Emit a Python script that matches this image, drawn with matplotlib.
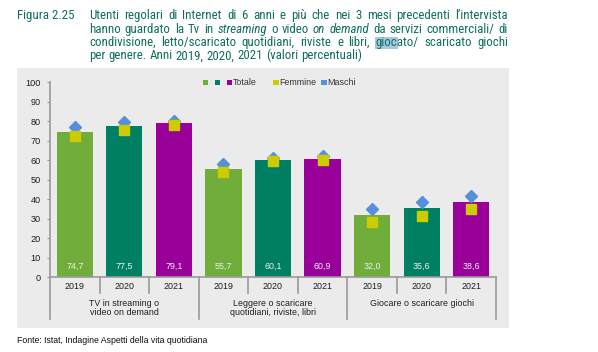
import matplotlib
matplotlib.use("Agg")
import matplotlib.pyplot as plt
from matplotlib.patches import Rectangle
from matplotlib import font_manager as fm
import numpy as np

# ---------------- data ----------------
years = ["2019", "2020", "2021"]
categories = ["TV in streaming o\nvideo on demand",
              "Leggere o scaricare\nquotidiani, riviste, libri",
              "Giocare o scaricare giochi"]
totale = [74.7, 77.5, 79.1, 55.7, 60.1, 60.9, 32.0, 35.6, 38.6]
femmine = [72.4, 75.5, 78.1, 53.9, 59.7, 60.1, 28.2, 31.3, 34.9]
maschi = [77.2, 79.5, 80.3, 57.9, 61.1, 62.0, 35.0, 38.8, 41.9]
value_labels = ["74,7", "77,5", "79,1", "55,7", "60,1", "60,9", "32,0", "35,6", "38,6"]
yticks = list(range(0, 101, 10))
legend_labels = ["Totale", "Femmine", "Maschi"]

# ---------------- style ----------------
W, H = 598, 352
DPI = 100
year_colors = ["#70AD3B", "#008062", "#990099"]
c_fem = "#CCCC00"
c_mas = "#5590DA"
bg = "#EBEBEB"
title_col = "#0F7060"
txt_col = "#1E1E1E"
axis_col = "#9A9A9A"
FS = 6.4
FONT = ["Liberation Sans", "DejaVu Sans"]
_names = set(f.name for f in fm.fontManager.ttflist)
if "Roboto Condensed" in _names:
    TFAM, TSTRETCH, TWEIGHT = "Roboto Condensed", "normal", "normal"
else:
    TFAM, TSTRETCH, TWEIGHT = "DejaVu Sans", "condensed", "normal"

plt.rcParams["font.family"] = FONT

fig = plt.figure(figsize=(W / DPI, H / DPI), dpi=DPI)
fig.patch.set_facecolor("white")

def fx(px):
    return px / W

def fy(py):
    return (H - py) / H

# gray panel
fig.patches.append(Rectangle((fx(17), fy(328)), fx(508.7) - fx(17), fy(68.3) - fy(328),
                             transform=fig.transFigure, facecolor=bg, edgecolor="none", zorder=-5))

# axes
ax_l, ax_r, ax_t, ax_b = 50, 496, 82.3, 277.3
ax = fig.add_axes([fx(ax_l), fy(ax_b), fx(ax_r) - fx(ax_l), fy(ax_t) - fy(ax_b)])
ax.set_facecolor("none")
ax.set_xlim(-0.5, 8.5)
ax.set_ylim(0, 100)

x = np.arange(len(totale))
colors = [year_colors[i % 3] for i in range(len(totale))]
ax.bar(x, totale, width=0.73, color=colors, zorder=2)
ax.plot(x, maschi, linestyle="none", marker="D", markersize=6.5, color=c_mas, zorder=3,
        clip_on=False)
ax.plot(x, femmine, linestyle="none", marker="s", markersize=7.0, color=c_fem, zorder=4,
        clip_on=False)

for xi, lab in zip(x, value_labels):
    ax.text(xi, 5.4, lab, ha="center", va="center", color="#EEEEEE", fontsize=FS, zorder=5)

for s in ["top", "right"]:
    ax.spines[s].set_visible(False)
for s in ["left", "bottom"]:
    ax.spines[s].set_color(axis_col)
    ax.spines[s].set_linewidth(1.2)
ax.set_yticks(yticks)
ax.set_yticklabels([str(v) for v in yticks], fontsize=FS + 0.2, color=txt_col)
ax.tick_params(axis="y", length=2.5, width=0.8, color=axis_col, pad=4.0)
ax.set_xticks([])

tr = ax.get_xaxis_transform()
axh = ax_b - ax_t
def ay(py):
    return -(py - ax_b) / axh

for xs in np.arange(0.5, 8.5, 1.0):
    if abs((xs + 0.5) % 3) < 1e-9:
        continue
    ax.plot([xs, xs], [0, ay(293)], color=axis_col, lw=1.2, transform=tr, clip_on=False)
for xs in [-0.5, 2.5, 5.5, 8.5]:
    ax.plot([xs, xs], [0, ay(319)], color=axis_col, lw=1.2, transform=tr, clip_on=False)

for xi in x:
    ax.text(xi, ay(286.7), years[xi % 3], ha="center", va="center", fontsize=FS,
            color=txt_col, transform=tr)

for gi, cat in enumerate(categories):
    ys = [303.3, 312.7]
    for li, ln in enumerate(cat.split("\n")):
        ax.text(gi * 3 + 1, ay(ys[li]), ln, ha="center", va="center", fontsize=FS,
                color=txt_col, transform=tr)

# legend (manual)
leg_y = 82.3
leg_items = [(205.5, year_colors[0], None), (217.7, year_colors[1], None),
             (229.3, year_colors[2], legend_labels[0]), (276.0, c_fem, legend_labels[1]),
             (324.0, c_mas, legend_labels[2])]
for lx, col, lab in leg_items:
    fig.patches.append(Rectangle((fx(lx - 2.6), fy(leg_y + 2.6)), 5.2 / W, 5.2 / H,
                                 transform=fig.transFigure, facecolor=col, edgecolor="none",
                                 zorder=3))
    if lab:
        fig.text(fx(lx + 3.3), fy(leg_y), lab, ha="left", va="center", fontsize=FS,
                 color="#333333")

fig.text(fx(17), fy(340.7), "Fonte: Istat, Indagine Aspetti della vita quotidiana",
         ha="left", va="center", fontsize=6.3, color="#111111")

# ---------------- title (justified) ----------------
renderer = fig.canvas.get_renderer()

def measure(s, size, style="normal"):
    t = fig.text(0, 0, s, fontsize=size, fontstyle=style, family=TFAM, fontstretch=TSTRETCH,
                 fontweight=TWEIGHT)
    w = t.get_window_extent(renderer).width
    t.remove()
    return w

title_lines = [
    ([("Utenti", "normal"), ("regolari", "normal"), ("di", "normal"), ("Internet", "normal"),
      ("di", "normal"), ("6", "normal"), ("anni", "normal"), ("e", "normal"), ("più", "normal"),
      ("che", "normal"), ("nei", "normal"), ("3", "normal"), ("mesi", "normal"),
      ("precedenti", "normal"), ("l’intervista", "normal")], True),
    ([("hanno", "normal"), ("guardato", "normal"), ("la", "normal"), ("Tv", "normal"),
      ("in", "normal"), ("streaming", "italic"), ("o", "normal"), ("video", "normal"),
      ("on", "italic"), ("demand", "italic"), ("da", "normal"), ("servizi", "normal"),
      ("commerciali/", "normal"), ("di", "normal")], True),
    ([("condivisione,", "normal"), ("letto/scaricato", "normal"), ("quotidiani,", "normal"),
      ("riviste", "normal"), ("e", "normal"), ("libri,", "normal"), ("giocato/", "normal"),
      ("scaricato", "normal"), ("giochi", "normal")], True),
    ([("per", "normal"), ("genere.", "normal"), ("Anni", "normal"), ("2019,", "normal"),
      ("2020,", "normal"), ("2021", "normal"), ("(valori", "normal"),
      ("percentuali)", "normal")], False),
]
last_line = " ".join(w for w, _ in title_lines[3][0])
TFS = 10.0 * 271.0 / measure(last_line, 10.0)
space_w = measure("a a", TFS) - measure("aa", TFS)

baselines = [19.3, 32.7, 46.0, 59.3]
tx0, tx1 = 89, 508

fig.text(fx(17), fy(baselines[0]), "Figura 2.25", fontsize=TFS, family=TFAM,
         fontstretch=TSTRETCH, fontweight=TWEIGHT, color=title_col, va="baseline", ha="left")

for (words, justify), by in zip(title_lines, baselines):
    widths = [measure(w, TFS, st) for w, st in words]
    if justify:
        gap = (tx1 - tx0 - sum(widths)) / (len(words) - 1)
    else:
        gap = space_w
    cx = tx0
    for (w, st), wd in zip(words, widths):
        if w == "giocato/":
            hw = measure("gioc", TFS)
            fig.patches.append(Rectangle((fx(cx - 0.5), fy(by + 2.8)), (hw + 1) / W, 12.0 / H,
                                         transform=fig.transFigure, facecolor="#A8C6E0",
                                         edgecolor="none", zorder=-1))
        fig.text(fx(cx), fy(by), w, fontsize=TFS, fontstyle=st, family=TFAM,
                 fontstretch=TSTRETCH, fontweight=TWEIGHT, color=title_col,
                 va="baseline", ha="left")
        cx += wd + gap

fig.savefig("out.png", dpi=DPI)
